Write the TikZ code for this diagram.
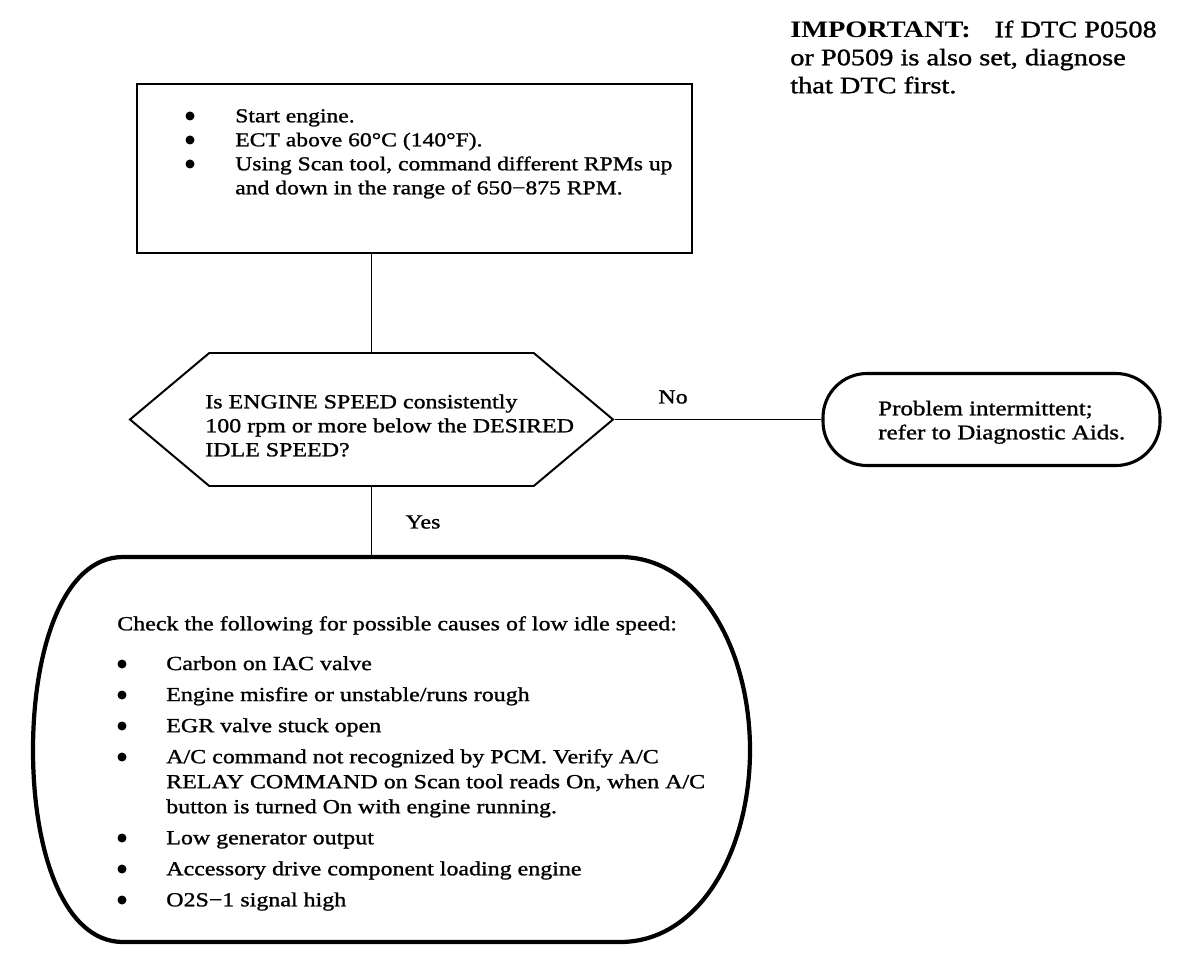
\documentclass[tikz,border=0pt]{standalone}
\usepackage{fontspec}
\setmainfont{Liberation Serif}[FakeStretch=1.2, UprightFeatures={FakeBold=1.2}]
\usetikzlibrary{shapes.symbols,positioning}

\newlength\pxl
\setlength\pxl{0.025cm}
\newcommand\bodyfont[2]{\fontsize{#1}{#2}\selectfont}

\tikzset{
  stepbox/.style={draw, line width=2pt, minimum width=555\pxl, minimum height=169\pxl, inner sep=0},
  askbox/.style={draw, signal, signal to=west and east, signal pointer angle=80, line width=1.4pt,
    minimum width=483\pxl, minimum height=133\pxl, inner sep=0},
  endbox/.style={draw, rounded corners=44\pxl, line width=2.2pt, minimum width=337\pxl, minimum height=92\pxl, inner sep=0},
  causebox/.style={minimum width=717\pxl, minimum height=385\pxl, inner sep=0},
  causeline/.style={line width=3pt, line join=round},
  txt/.style={anchor=north west, inner sep=0},
  link/.style={draw, line width=1.4pt}
}

\begin{document}
\begin{tikzpicture}[x=\pxl, y=-\pxl]
\useasboundingbox (0,0) rectangle (1200,964);

% outlines
\node[stepbox] (start) at (414.5,168.5) {};
\node[askbox] (ask) at (371.5,419.5) {};
\node[endbox] (intermit) at (991.5,419.5) {};
\node[causebox] (causes) at (391.5,749.5) {};
\draw[causeline] (123,557) -- (620,557)
  .. controls (700,557) and (750,650) .. (750,750)
  .. controls (750,850) and (700,942) .. (620,942) -- (123,942)
  .. controls (63,942) and (33,850) .. (33,750)
  .. controls (33,650) and (63,557) .. cycle;

% texts
\node[txt, font={\bodyfont{16.8}{19.9}}] (important) at (790,17.4) {\begin{tabular}{@{}l@{}}
\textbf{IMPORTANT:}\quad If DTC P0508\\
or P0509 is also set, diagnose\\
that DTC first.
\end{tabular}};

\node[txt, font={\bodyfont{14}{17.07}}] (steps) at (235,105.2) {\begin{tabular}{@{}l@{}}
Start engine.\\
ECT above 60°C (140°F).\\
Using Scan tool, command different RPMs up\\
and down in the range of 650−875 RPM.
\end{tabular}};

\node[txt, font={\bodyfont{14.2}{17.07}}] (question) at (205,391.2) {\begin{tabular}{@{}l@{}}
Is ENGINE SPEED consistently\\
100 rpm or more below the DESIRED\\
IDLE SPEED?
\end{tabular}};

\node[txt, font={\bodyfont{14.8}{17.07}}] (advice) at (878,398.2) {\begin{tabular}{@{}l@{}}
Problem intermittent;\\
refer to Diagnostic Aids.
\end{tabular}};

\node[txt, font={\bodyfont{14.2}{17.78}}] (checklist) at (117,612.5) {\begin{tabular}{@{}p{49\pxl}@{}l@{}}
\multicolumn{2}{@{}l@{}}{Check the following for possible causes of low idle speed:}\\[10.5pt]
 & Carbon on IAC valve\\[4.3pt]
 & Engine misfire or unstable/runs rough\\[4.3pt]
 & EGR valve stuck open\\[4.3pt]
 & A/C command not recognized by PCM. Verify A/C\\
 & RELAY COMMAND on Scan tool reads On, when A/C\\
 & button is turned On with engine running.\\[4.3pt]
 & Low generator output\\[4.3pt]
 & Accessory drive component loading engine\\[4.3pt]
 & O2S−1 signal high
\end{tabular}};

% bullets
\foreach \y in {116,140,164}
  \fill (190,\y) circle[radius=4.5\pxl];
\foreach \y in {664,695,726,757,838,869,900}
  \fill (122,\y) circle[radius=4.5\pxl];

\node[font={\bodyfont{14.2}{17.07}}, inner sep=0] (no) at (673,397) {No};
\node[font={\bodyfont{14.2}{17.07}}, inner sep=0] (yes) at (423,522) {Yes};

% connectors
\draw[link] (ask.north |- start.south) -- (ask.north);
\draw[link] (ask.east) -- (intermit.west);
\draw[link] (ask.south) -- (ask.south |- causes.north);
\end{tikzpicture}
\end{document}
